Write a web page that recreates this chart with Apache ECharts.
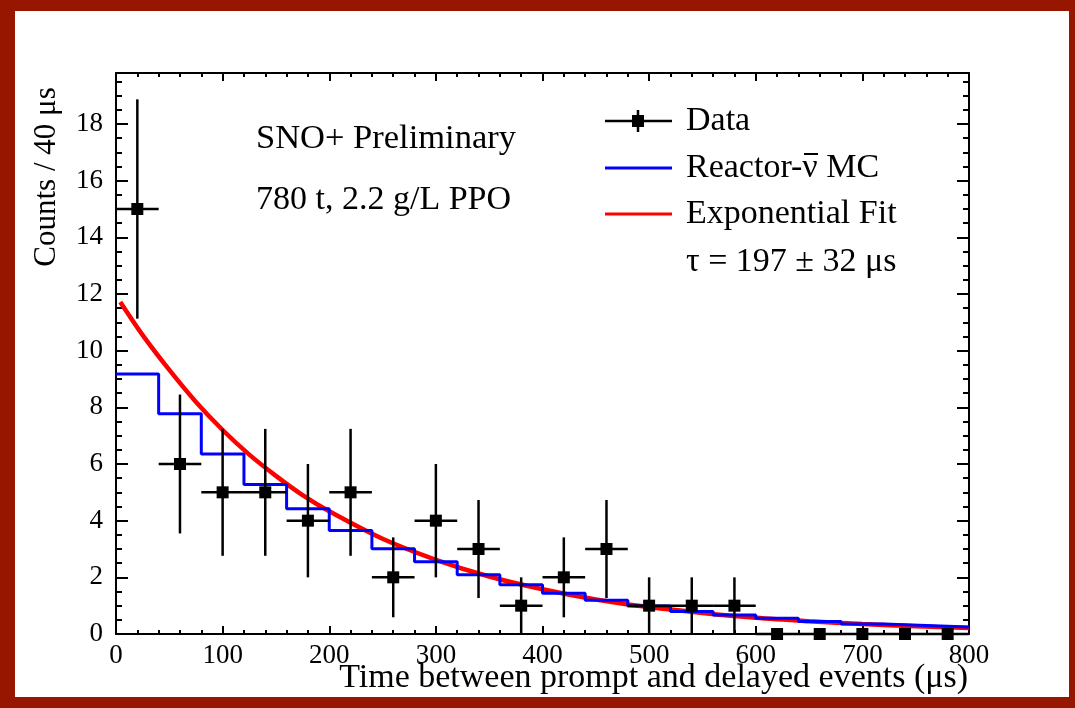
<!DOCTYPE html>
<html>
<head>
<meta charset="utf-8">
<script src="https://cdn.jsdelivr.net/npm/echarts@6/dist/echarts.min.js"></script>
<style>
  html, body { margin: 0; padding: 0; }
  #frame { position: relative; width: 1075px; height: 708px; background: #961600; }
  #chart { position: absolute; left: 15px; top: 11px; width: 1054px; height: 686px; background: #fff; }
</style>
</head>
<body>
<div id="frame"><div id="chart"></div></div>
<script>
// data
var binCenters = [20, 60, 100, 140, 180, 220, 260, 300, 340, 380, 420, 460, 500, 540, 580, 620, 660, 700, 740, 780];
var binHalfWidth = 20;
var dataCounts = [15, 6, 5, 5, 4, 5, 2, 4, 3, 1, 2, 3, 1, 1, 1, 0, 0, 0, 0, 0];
var dataErrors = [3.87, 2.45, 2.24, 2.24, 2.0, 2.24, 1.41, 2.0, 1.73, 1.0, 1.41, 1.73, 1.0, 1.0, 1.0, 0, 0, 0, 0, 0];

var mcEdges = [0, 40, 80, 120, 160, 200, 240, 280, 320, 360, 400, 440, 480, 520, 560, 600, 640, 680, 720, 760, 800];
var mcValues = [9.18, 7.77, 6.35, 5.28, 4.42, 3.65, 3.01, 2.55, 2.09, 1.74, 1.44, 1.19, 0.99, 0.79, 0.67, 0.56, 0.44, 0.35, 0.30, 0.25];

var fitTimes = [4, 25, 50, 75, 100, 125, 150, 175, 200, 250, 300, 350, 400, 450, 500, 550, 600, 650, 700, 750, 800];
var fitValues = [11.72, 10.55, 9.32, 8.19, 7.20, 6.33, 5.58, 4.90, 4.33, 3.36, 2.62, 2.03, 1.58, 1.22, 0.95, 0.74, 0.57, 0.45, 0.35, 0.27, 0.21];

var xTicks = { min: 0, max: 800, interval: 100 };
var yTicks = { min: 0, max: 19.8, interval: 2, minorInterval: 0.5 };

var FONT = 'Liberation Serif';

// step histogram: hold each value until next edge, repeat last one at the end
var mcStep = mcEdges.map(function (edge, i) {
  return [edge, i < mcValues.length ? mcValues[i] : mcValues[mcValues.length - 1]];
});
var fitLine = fitTimes.map(function (t, i) {
  return [t, fitValues[i]];
});
var points = binCenters.map(function (x, i) {
  return [x, dataCounts[i], dataErrors[i]];
});

var renderErrorPoint = function (params, api) {
  var x = api.value(0);
  var y = api.value(1);
  var err = api.value(2);
  var c = api.coord([x, y]);
  var l = api.coord([x - binHalfWidth, y]);
  var r = api.coord([x + binHalfWidth, y]);
  var top = api.coord([x, y + err]);
  var bot = api.coord([x, y - err]);
  var style = { stroke: '#000', lineWidth: 2.5 };
  return {
    type: 'group',
    children: [
      { type: 'line', shape: { x1: l[0], y1: l[1], x2: r[0], y2: r[1] }, style: style },
      { type: 'line', shape: { x1: top[0], y1: top[1], x2: bot[0], y2: bot[1] }, style: style },
      { type: 'rect', shape: { x: c[0] - 6, y: c[1] - 6, width: 12, height: 12 }, style: { fill: '#000' } }
    ]
  };
};

var lineStyleBlack = { color: '#000', width: 2 };

var xAxisBase = function (pos, showLabel) {
  return {
    type: 'value',
    position: pos,
    min: xTicks.min,
    max: xTicks.max,
    interval: xTicks.interval,
    axisLine: { show: true, onZero: false, lineStyle: lineStyleBlack },
    axisTick: { show: true, inside: true, length: 8, lineStyle: lineStyleBlack },
    minorTick: { show: true, splitNumber: 5, length: 4, lineStyle: lineStyleBlack },
    splitLine: { show: false },
    minorSplitLine: { show: false },
    axisLabel: { show: showLabel, color: '#000', fontFamily: FONT, fontSize: 27, margin: 8 }
  };
};

var yAxisBase = function (pos, interval, tickLen, showLine, showLabel) {
  return {
    type: 'value',
    position: pos,
    min: yTicks.min,
    max: yTicks.max,
    interval: interval,
    axisLine: { show: showLine, onZero: false, lineStyle: lineStyleBlack },
    axisTick: { show: true, inside: true, length: tickLen, lineStyle: lineStyleBlack },
    splitLine: { show: false },
    axisLabel: { show: showLabel, showMaxLabel: false, color: '#000', fontFamily: FONT, fontSize: 27, margin: 13 }
  };
};

var legendX1 = 590, legendX2 = 657, legendTextX = 671;

var option = {
  animation: false,
  grid: { left: 101, top: 62, width: 853, height: 561, outerBoundsMode: 'none', containLabel: false },
  xAxis: [xAxisBase('bottom', true), xAxisBase('top', false)],
  yAxis: [
    yAxisBase('left', yTicks.interval, 12, true, true),
    yAxisBase('left', yTicks.minorInterval, 6, false, false),
    yAxisBase('right', yTicks.interval, 12, true, false),
    yAxisBase('right', yTicks.minorInterval, 6, false, false)
  ],
  series: [
    {
      name: 'Exponential Fit',
      type: 'line',
      data: fitLine,
      smooth: 0.3,
      showSymbol: false,
      lineStyle: { color: '#ff0000', width: 4.5 },
      z: 2
    },
    {
      name: 'Reactor MC',
      type: 'line',
      step: 'end',
      data: mcStep,
      showSymbol: false,
      lineStyle: { color: '#0000ff', width: 3 },
      z: 3
    },
    {
      name: 'Data',
      type: 'custom',
      data: points,
      encode: { x: 0, y: 1 },
      renderItem: renderErrorPoint,
      z: 4
    }
  ],
  graphic: [
    // legend
    { type: 'line', shape: { x1: legendX1, y1: 110, x2: legendX2, y2: 110 }, style: { stroke: '#000', lineWidth: 2.5 } },
    { type: 'line', shape: { x1: 623, y1: 99, x2: 623, y2: 121 }, style: { stroke: '#000', lineWidth: 2.5 } },
    { type: 'rect', shape: { x: 617, y: 104, width: 12, height: 12 }, style: { fill: '#000' } },
    { type: 'line', shape: { x1: legendX1, y1: 157, x2: legendX2, y2: 157 }, style: { stroke: '#0000ff', lineWidth: 3 } },
    { type: 'line', shape: { x1: legendX1, y1: 203, x2: legendX2, y2: 203 }, style: { stroke: '#ff0000', lineWidth: 3 } },
    { type: 'text', x: legendTextX, y: 110, style: { text: 'Data', font: '34px ' + FONT, fill: '#000', verticalAlign: 'middle' } },
    { type: 'text', x: legendTextX, y: 157, style: { text: 'Reactor-\u03bd MC', font: '34px ' + FONT, fill: '#000', verticalAlign: 'middle' } },
    // bar over the nu
    { type: 'line', shape: { x1: 789, y1: 143, x2: 803, y2: 143 }, style: { stroke: '#000', lineWidth: 2 } },
    { type: 'text', x: legendTextX, y: 203, style: { text: 'Exponential Fit', font: '34px ' + FONT, fill: '#000', verticalAlign: 'middle' } },
    { type: 'text', x: legendTextX, y: 251, style: { text: '\u03c4 = 197 \u00b1 32 \u03bcs', font: '34px ' + FONT, fill: '#000', verticalAlign: 'middle' } },
    // labels in the plot
    { type: 'text', x: 241, y: 128, style: { text: 'SNO+ Preliminary', font: '34.5px ' + FONT, fill: '#000', verticalAlign: 'middle' } },
    { type: 'text', x: 241, y: 189, style: { text: '780 t, 2.2 g/L PPO', font: '34px ' + FONT, fill: '#000', verticalAlign: 'middle' } },
    // axis titles
    { type: 'text', x: 953, y: 667, style: { text: 'Time between prompt and delayed events (\u03bcs)', font: '34px ' + FONT, fill: '#000', align: 'right', verticalAlign: 'middle' } },
    { type: 'text', x: 32, y: 166, rotation: Math.PI / 2, style: { text: 'Counts / 40 \u03bcs', font: '31px ' + FONT, fill: '#000', align: 'center', verticalAlign: 'middle' } }
  ]
};

var chart = echarts.init(document.getElementById('chart'));
chart.setOption(option);
</script>
</body>
</html>
